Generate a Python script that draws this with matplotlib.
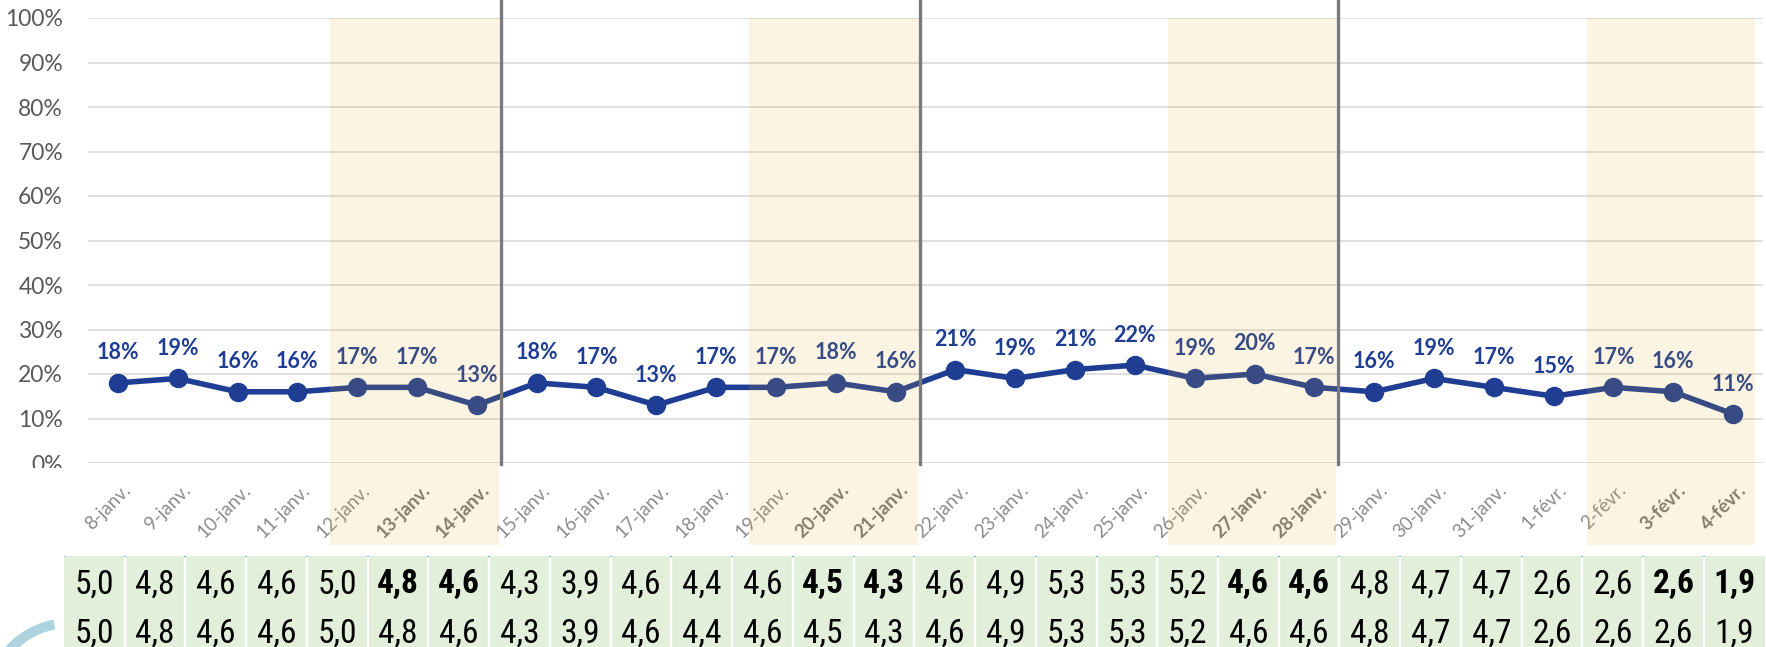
import matplotlib
matplotlib.use("Agg")
import matplotlib.pyplot as plt
import numpy as np
from matplotlib import transforms
from matplotlib.patches import Rectangle, Wedge
from matplotlib.lines import Line2D
from matplotlib.transforms import Bbox, TransformedBbox

# ---- data -------------------------------------------------------------
dates = ["8-janv.", "9-janv.", "10-janv.", "11-janv.", "12-janv.", "13-janv.",
         "14-janv.", "15-janv.", "16-janv.", "17-janv.", "18-janv.", "19-janv.",
         "20-janv.", "21-janv.", "22-janv.", "23-janv.", "24-janv.", "25-janv.",
         "26-janv.", "27-janv.", "28-janv.", "29-janv.", "30-janv.", "31-janv.",
         "1-févr.", "2-févr.", "3-févr.", "4-févr."]
rates = [18, 19, 16, 16, 17, 17, 13, 18, 17, 13, 17, 17, 18, 16,
         21, 19, 21, 22, 19, 20, 17, 16, 19, 17, 15, 17, 16, 11]
row_top = [5.0, 4.8, 4.6, 4.6, 5.0, 4.8, 4.6, 4.3, 3.9, 4.6, 4.4, 4.6, 4.5, 4.3,
           4.6, 4.9, 5.3, 5.3, 5.2, 4.6, 4.6, 4.8, 4.7, 4.7, 2.6, 2.6, 2.6, 1.9]
row_bottom = [5.0, 4.8, 4.6, 4.6, 5.0, 4.8, 4.6, 4.3, 3.9, 4.6, 4.4, 4.6, 4.5, 4.3,
              4.6, 4.9, 5.3, 5.3, 5.2, 4.6, 4.6, 4.8, 4.7, 4.7, 2.6, 2.6, 2.6, 1.9]
friday_idx = [4, 11, 18, 25]            # start of each shaded Fri-Sun block
weekend_idx = [5, 6, 12, 13, 19, 20, 26, 27]

# ---- style ------------------------------------------------------------
plt.rcParams["font.family"] = ["Lato", "DejaVu Sans"]
BLUE = "#1F3E93"
GRID = "#D9D9D9"
NARROW = ["Liberation Sans Narrow", "Roboto Condensed", "DejaVu Sans Condensed",
          "DejaVu Sans"]

W, H = 1766, 647
fig = plt.figure(figsize=(W / 100, H / 100), dpi=100)
PT = 72 / fig.dpi   # points per pixel


def fx(px):
    return px / W


def fy(py):
    return 1 - py / H


# ---- main chart -------------------------------------------------------
ax = fig.add_axes([fx(88), fy(463), fx(1763) - fx(88), (463 - 18) / H])
x = np.arange(len(dates))
ax.plot(x, np.array(rates) / 100, color=BLUE, lw=4, marker="o", ms=13,
        zorder=3, solid_joinstyle="round")
for xi, v in zip(x, rates):
    ax.annotate(f"{v}%", (xi, v / 100), xytext=(0, 30 * PT), textcoords="offset points",
                ha="center", va="center", fontsize=15.5, fontweight="bold", color=BLUE)

ax.set_xlim(-0.5, len(dates) - 0.5)
ax.set_ylim(0, 1)
yt = np.round(np.arange(0, 1.01, 0.1), 1)
ax.set_yticks(yt, [f"{int(round(t * 100))}%" for t in yt])
ax.set_xticks([])
ax.tick_params(axis="y", length=0, pad=18, labelsize=16.5, labelcolor="#595959")
ax.grid(axis="y", color=GRID, lw=1.2)
ax.set_axisbelow(True)
for s in ax.spines.values():
    s.set_visible(False)

# the 0% label is cut by the plot frame
zero_lab = ax.get_yticklabels()[0]
zero_lab.set_clip_on(True)
zero_lab.set_clip_box(TransformedBbox(Bbox([[0, fy(468)], [1, 1]]), fig.transFigure))

# rotated date labels, anchored at the end of their baseline
for xi, lab in zip(x, dates):
    wk = xi in weekend_idx
    ax.annotate(lab, xy=(xi, 0), xycoords=("data", "axes fraction"),
                xytext=(14 * PT, -28 * PT), textcoords="offset points",
                rotation=45, rotation_mode="anchor", ha="right", va="baseline",
                fontsize=13.5, color="#777777" if wk else "#8C8C8C",
                fontweight="bold" if wk else "normal", annotation_clip=False)

# shaded Fri-Sun blocks and week separators (drawn above the chart)
blend = transforms.blended_transform_factory(ax.transData, ax.transAxes)
for k, s in enumerate(friday_idx):
    fig.add_artist(Rectangle((s - 0.45, -0.184), 2.82, 1.184, transform=blend,
                             facecolor="#EEAC1E", alpha=0.12, edgecolor="none", zorder=5))
    if k < 3:
        fig.add_artist(Line2D([s + 2.4, s + 2.4], [-0.003, 1.045], transform=blend,
                              color="#7A7A7A", lw=2.4, zorder=6))

# ---- value table ------------------------------------------------------
tax = fig.add_axes([fx(64), fy(654), fx(1764.6) - fx(64), 98 / H])
tax.set_xlim(-0.5, len(dates) - 0.5)
tax.set_ylim(2, 0)
tax.axis("off")
for xi in x:
    tax.add_patch(Rectangle((xi - 0.5, 0), 1, 2, facecolor="#E2EFDA", edgecolor="none"))
tax.vlines(np.arange(0.5, len(dates) - 0.5), 0, 2, colors="white", lw=1.6)
tax.vlines(np.arange(-0.5, len(dates) - 0.5), 0, 0.03, colors="#3CB4E6", lw=1.2)
for xi, a, b in zip(x, row_top, row_bottom):
    tax.text(xi, 0.58, f"{a:.1f}".replace(".", ","), ha="center", va="center",
             fontsize=24, family=NARROW, fontstretch="condensed", color="black",
             fontweight="bold" if xi in weekend_idx else "normal")
    tax.text(xi, 1.58, f"{b:.1f}".replace(".", ","), ha="center", va="center",
             fontsize=24, family=NARROW, fontstretch="condensed", color="black")

# ---- decorative arc in the lower-left corner ---------------------------
ov = fig.add_axes([0, 0, 1, 1])
ov.set_xlim(0, W)
ov.set_ylim(H, 0)
ov.axis("off")
ov.patch.set_visible(False)
ov.add_patch(Wedge((70, 705), 87, 180, 259, width=10, facecolor="#ADD3DE", edgecolor="none"))

fig.savefig("out.png", dpi=100)
